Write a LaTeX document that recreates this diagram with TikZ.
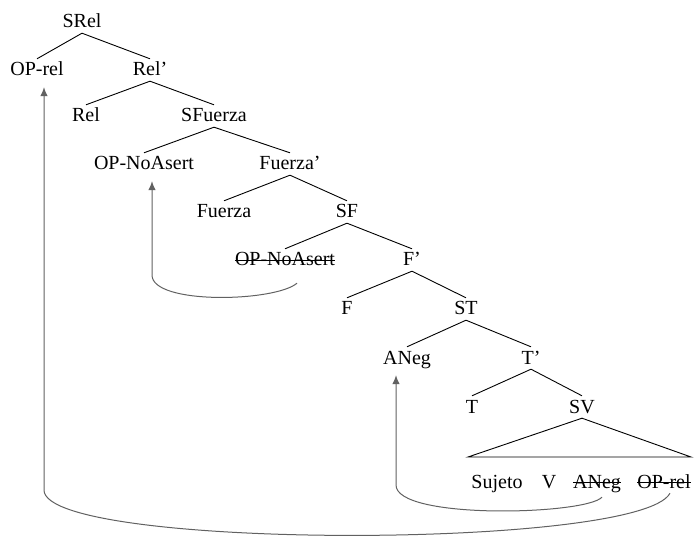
\documentclass[tikz,border=0pt]{standalone}
\usepackage{fontspec}
\setmainfont{Liberation Serif}
\usepackage{tikz}
\usetikzlibrary{arrows.meta,calc}
\tikzstyle{cat_style}=[anchor=base, inner sep=2pt, text height=15pt, text depth=3pt,
font=\fontsize{20}{24}\selectfont]
\tikzstyle{branch}=[line width=0.9pt]
\tikzstyle{strike}=[line width=0.8pt, shorten <=2pt, shorten >=2pt]
\tikzstyle{myarrow}=[->, >={Latex[length=9pt,width=7.5pt]}, line width=1pt, draw=black!62, shorten >=6pt]

\begin{document}
\begin{tikzpicture}[x=1pt, y=-1pt]
		\useasboundingbox (0,0) rectangle (694,540) ;

		\node[cat_style] (SRel) at (82,28) {SRel} ;
		\node[cat_style] (OPrel) at (37,76) {OP-rel} ;
		\node[cat_style] (RelB) at (150,76) {Rel’} ;
		\draw[branch] (SRel.south) -- (OPrel.north) ;
		\draw[branch] (SRel.south) -- (RelB.north) ;

		\node[cat_style] (Rel) at (86,122) {Rel} ;
		\node[cat_style] (SFuerza) at (214,122) {SFuerza} ;
		\draw[branch] (RelB.south) -- (Rel.north) ;
		\draw[branch] (RelB.south) -- (SFuerza.north) ;

		\node[cat_style] (OPna) at (144,170) {OP-NoAsert} ;
		\node[cat_style] (FuerzaB) at (290,170) {Fuerza’} ;
		\draw[branch] (SFuerza.south) -- (OPna.north) ;
		\draw[branch] (SFuerza.south) -- (FuerzaB.north) ;

		\node[cat_style] (Fuerza) at (224,218) {Fuerza} ;
		\node[cat_style] (SF) at (347,218) {SF} ;
		\draw[branch] (FuerzaB.south) -- (Fuerza.north) ;
		\draw[branch] (FuerzaB.south) -- (SF.north) ;

		\node[cat_style] (OPnaX) at (285,266) {OP-NoAsert} ; % copia borrada
		\draw[strike] ([yshift=6pt]OPnaX.base west) -- ([yshift=6pt]OPnaX.base east) ;
		\node[cat_style] (FB) at (412,266) {F’} ;
		\draw[branch] (SF.south) -- (OPnaX.north) ;
		\draw[branch] (SF.south) -- (FB.north) ;

		\node[cat_style] (F) at (347,315) {F} ;
		\node[cat_style] (ST) at (466,315) {ST} ;
		\draw[branch] (FB.south) -- (F.north) ;
		\draw[branch] (FB.south) -- (ST.north) ;

		\node[cat_style] (ANeg) at (407,364) {ANeg} ;
		\node[cat_style] (TB) at (531,364) {T’} ;
		\draw[branch] (ST.south) -- (ANeg.north) ;
		\draw[branch] (ST.south) -- (TB.north) ;

		\node[cat_style] (T) at (472,413) {T} ;
		\node[cat_style] (SV) at (582,413) {SV} ;
		\draw[branch] (TB.south) -- (T.north) ;
		\draw[branch] (TB.south) -- (SV.north) ;

		% triangulo del SV
		\coordinate (triL) at (468,457) ;
		\coordinate (triR) at (691,457) ;
		\draw[branch] (SV.south) -- (triL) -- (triR) -- cycle ;

		\node[cat_style] (Sujeto) at (497,488) {Sujeto} ;
		\node[cat_style] (V) at (549,488) {V} ;
		\node[cat_style] (ANegX) at (597,488) {ANeg} ; % copia borrada
		\draw[strike] ([yshift=6pt]ANegX.base west) -- ([yshift=6pt]ANegX.base east) ;
		\node[cat_style] (OPrelX) at (664,488) {OP-rel} ; % copia borrada
		\draw[strike] ([yshift=6pt]OPrelX.base west) -- ([yshift=6pt]OPrelX.base east) ;

		% movimientos
		\draw[myarrow] ([xshift=12pt,yshift=-12pt]OPnaX.south) .. controls (275,302) and (152,305) .. (152,275) -- (152,275 |- OPna.south) ;
		\draw[myarrow] ([xshift=5pt,yshift=-4pt]ANegX.south) .. controls (585,515) and (396,520) .. (396,485) -- (396,485 |- ANeg.south) ;
		\draw[myarrow] ([xshift=6pt]OPrelX.south) .. controls (640,550) and (44,550) .. (44,490) -- (44,490 |- OPrel.south) ;

	\end{tikzpicture}
\end{document}
